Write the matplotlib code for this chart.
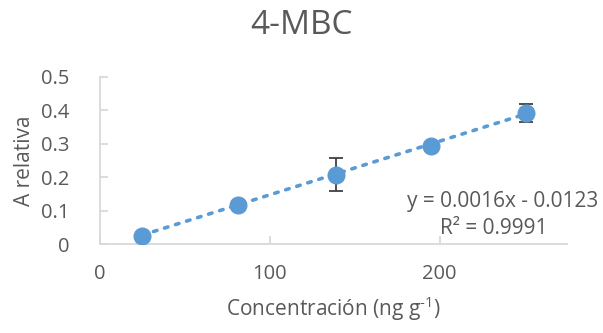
import numpy as np
import matplotlib
matplotlib.use("Agg")
import matplotlib.pyplot as plt

plt.rcParams['font.family'] = ['Open Sans', 'DejaVu Sans']

# Calibration data for 4-MBC
conc = [25, 81, 139, 195, 251]
a_rel = [0.026, 0.118, 0.207, 0.292, 0.393]
a_err = [0.004, 0.004, 0.049, 0.004, 0.027]

slope = 0.0016
intercept = -0.0123
r2 = 0.9991

blue = '#5B9BD5'
text_grey = '#595959'
spine_grey = '#D9D9D9'

fig = plt.figure(figsize=(6.03, 3.33), dpi=100)
ax = fig.add_axes([100/603, 88.7/333, 467/603, 167.6/333])

# linear trendline
xt = np.array([conc[0], conc[-1]])
ax.plot(xt, slope * xt + intercept, linestyle=(0, (1, 2.2)), color=blue,
        linewidth=2.6, dash_capstyle='round', zorder=2)

ax.errorbar(conc, a_rel, yerr=a_err, fmt='none', ecolor='#404040',
            elinewidth=1.3, capsize=4.7, capthick=1.3, zorder=3)
ax.plot(conc, a_rel, 'o', color=blue, markersize=12, zorder=4)

ax.set_xlim(0, 275)
ax.set_ylim(0, 0.5)
ax.set_xticks([0, 100, 200])
ax.set_yticks([0, 0.1, 0.2, 0.3, 0.4, 0.5])
ax.set_yticklabels(['0', '0.1', '0.2', '0.3', '0.4', '0.5'])

for s in ['top', 'right']:
    ax.spines[s].set_visible(False)
for s in ['left', 'bottom']:
    ax.spines[s].set_color(spine_grey)
    ax.spines[s].set_linewidth(1.3)

ax.tick_params(axis='both', direction='in', colors=spine_grey,
               labelcolor=text_grey, labelsize=14.5, width=1.3, length=6)
ax.tick_params(axis='y', pad=22)
ax.tick_params(axis='x', pad=14)

ax.set_xlabel('Concentración (ng g$^{\\mathregular{\u20101}}$)', fontsize=15,
              color=text_grey, labelpad=8)
ax.set_ylabel('A relativa', fontsize=15, color=text_grey, labelpad=4)

fig.text(0.5, 1 - 25/333, '4-MBC', ha='center', va='center', fontsize=24,
         color=text_grey)

fig.text(598/603, 1 - 202/333, f'y = {slope}x - {abs(intercept)}', ha='right',
         va='center', fontsize=15, color=text_grey)
fig.text(494/603, 1 - 228/333, f'R² = {r2}', ha='center', va='center',
         fontsize=15, color=text_grey)

fig.savefig('out.png', dpi=100)
